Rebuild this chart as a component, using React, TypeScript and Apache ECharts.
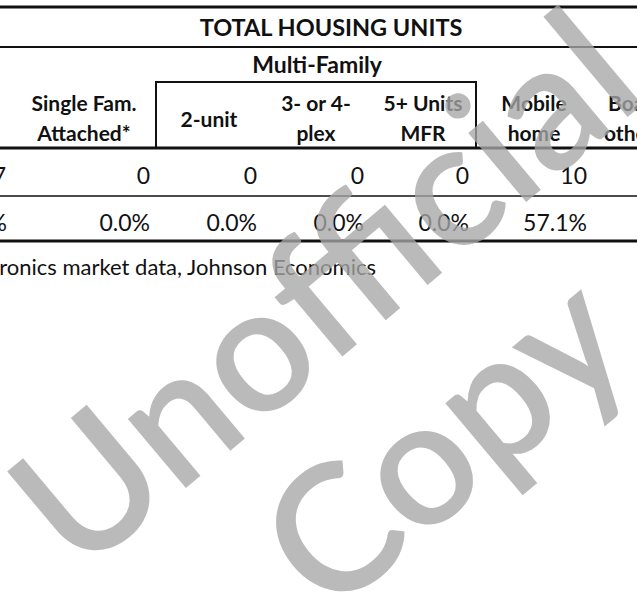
import React, { useEffect, useRef } from "react";
import * as echarts from "echarts";

// ---- data ----
const TITLE = "TOTAL HOUSING UNITS";
const GROUP_TITLE = "Multi-Family";
const HEADER_LINES: string[][] = [
  ["Single Fam.", "Attached*"],
  ["2-unit"],
  ["3- or 4-", "plex"],
  ["5+ Units", "MFR"],
  ["Mobile", "home"],
];
const LAST_HEADER_LINES = ["Boat, RV,", "other"];
const PREV_COUNT = 7;
const PREV_PERCENT = 40.0;
const COUNTS = [0, 0, 0, 0, 10];
const PERCENTS = [0.0, 0.0, 0.0, 0.0, 57.1];
const SOURCE = "Source: Environics market data, Johnson Economics";
const WATERMARK = ["Unofficial", "Copy"];

// ---- layout ----
const W = 637;
const H = 597;
const COL_RIGHT = [150, 257, 364, 469, 587];
const COL_CENTER = [84, 209, 316, 423, 534];
const FONT_B = "Lato, 'Noto Sans', sans-serif";

export default function App() {
  const ref = useRef<HTMLDivElement>(null);
  useEffect(() => {
    document.body.style.margin = "0";
    const chart = echarts.init(ref.current!, null, { renderer: "svg" });
    const els: any[] = [];
    const hline = (y: number, w: number) =>
      els.push({ type: "line", shape: { x1: 0, y1: y, x2: W, y2: y }, style: { stroke: "#111", lineWidth: w } });
    const txt = (x: number, y: number, text: string, size: number, weight: string, align: string) =>
      els.push({
        type: "text",
        x,
        y,
        style: { text, fontSize: size, fontWeight: weight, fontFamily: FONT_B, fill: "#111", align, verticalAlign: "middle" },
      });

    hline(7, 3);
    hline(47, 2);
    hline(148, 3);
    hline(196, 1.5);
    hline(241, 3);
    els.push({ type: "rect", shape: { x: 156, y: 82, width: 320, height: 66 }, style: { fill: "none", stroke: "#111", lineWidth: 2 } });

    txt(331, 27, TITLE, 23.5, "bold", "center");
    txt(317, 64, GROUP_TITLE, 23, "bold", "center");
    HEADER_LINES.forEach((lines, i) => {
      if (lines.length === 1) txt(COL_CENTER[i], 118, lines[0], 21, "bold", "center");
      else {
        txt(COL_CENTER[i], 102, lines[0], 21, "bold", "center");
        txt(COL_CENTER[i], 132, lines[1], 21, "bold", "center");
      }
    });
    txt(608, 102, LAST_HEADER_LINES[0], 21, "bold", "left");
    txt(604, 132, LAST_HEADER_LINES[1], 21, "bold", "left");

    txt(6, 175, String(PREV_COUNT), 23, "normal", "right");
    txt(7, 222, PREV_PERCENT.toFixed(1) + "%", 23, "normal", "right");
    COUNTS.forEach((v, i) => txt(COL_RIGHT[i], 175, String(v), 23, "normal", "right"));
    PERCENTS.forEach((v, i) => txt(COL_RIGHT[i], 222, v.toFixed(1) + "%", 23, "normal", "right"));

    txt(376, 266, SOURCE, 22, "normal", "right");

    const rot = (40 * Math.PI) / 180;
    const wm = (x: number, y: number, text: string) =>
      els.push({
        type: "text",
        x,
        y,
        rotation: rot,
        style: {
          text,
          fontSize: 177,
          fontWeight: 600,
          fontFamily: FONT_B,
          fill: "#a6a6a6",
          opacity: 0.78,
          align: "center",
          verticalAlign: "middle",
        },
      });
    wm(321, 285, WATERMARK[0]);
    wm(440, 436, WATERMARK[1]);

    chart.setOption({ animation: false, backgroundColor: "#fff", graphic: { elements: els } });
    return () => chart.dispose();
  }, []);
  return <div ref={ref} style={{ width: W, height: H }} />;
}
